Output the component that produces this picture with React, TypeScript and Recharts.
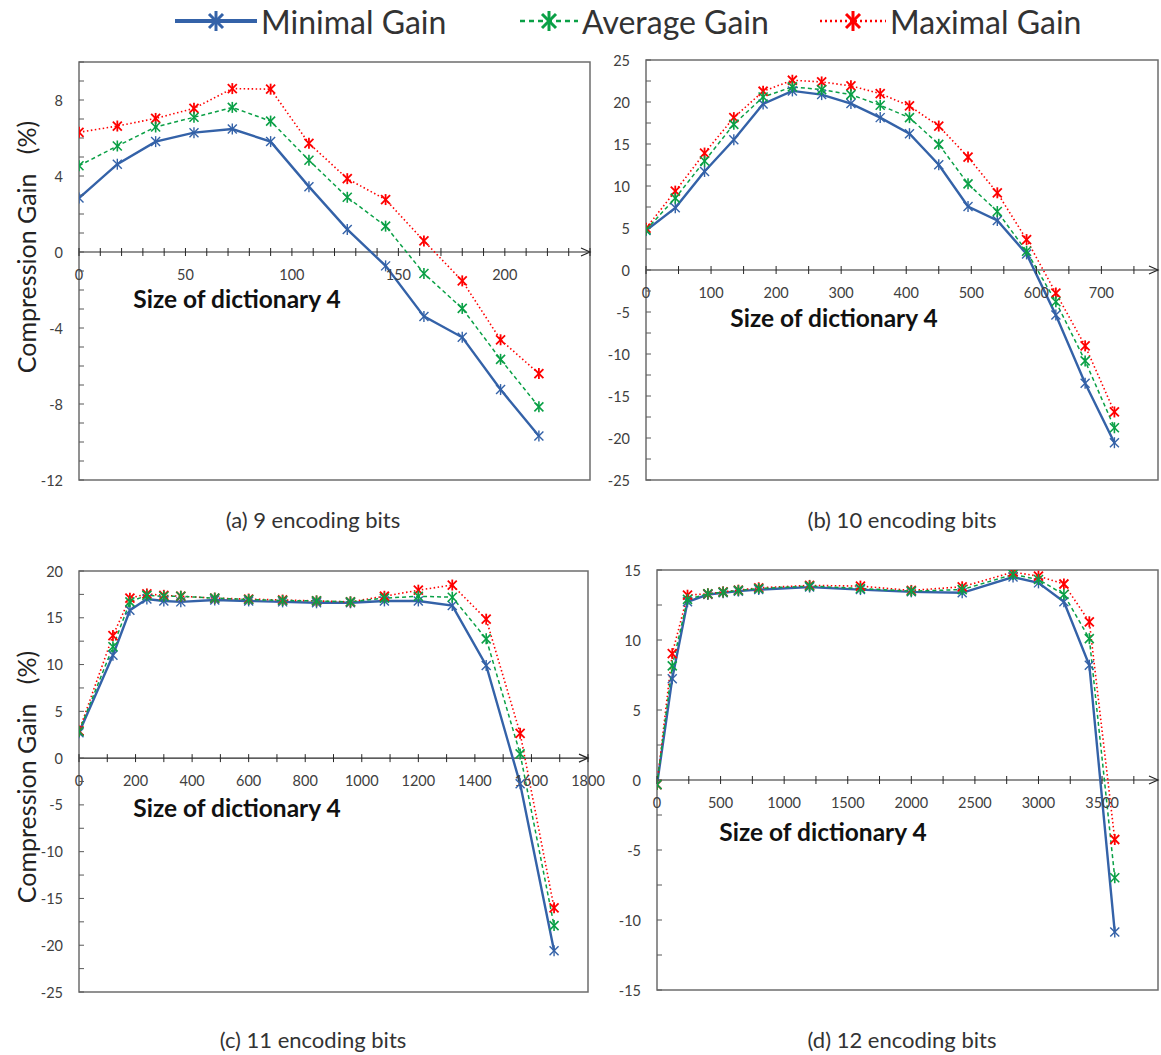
import React from 'react';
import { LineChart, Line, XAxis, YAxis, ReferenceLine, ReferenceDot, ReferenceArea } from 'recharts';

const FONT = 'Lato, "Open Sans", sans-serif';
const BLUE = '#3462a8';
const GREEN = '#0aa046';
const RED = '#ff0000';
const TEXT = '#404040';

// (a) 9 encoding bits
const sizesA = [0, 18, 36, 54, 72, 90, 108, 126, 144, 162, 180, 198, 216];
const minA = [2.84, 4.62, 5.81, 6.28, 6.47, 5.81, 3.44, 1.19, -0.73, -3.39, -4.49, -7.24, -9.69];
const avgA = [4.54, 5.58, 6.58, 7.09, 7.61, 6.89, 4.83, 2.88, 1.36, -1.13, -2.97, -5.65, -8.15];
const maxA = [6.3, 6.63, 7.03, 7.56, 8.6, 8.57, 5.72, 3.86, 2.76, 0.58, -1.52, -4.62, -6.4];
const xLabelsA = [0, 50, 100, 150, 200];
const yLabelsA = [-12, -8, -4, 0, 4, 8];

// (b) 10 encoding bits
const sizesB = [0, 45, 90, 135, 180, 225, 270, 315, 360, 405, 450, 495, 540, 585, 630, 675, 720];
const minB = [4.69, 7.4, 11.73, 15.51, 19.77, 21.32, 20.88, 19.81, 18.14, 16.23, 12.53, 7.56, 5.89, 1.91, -5.37, -13.48, -20.56];
const avgB = [4.77, 8.55, 12.97, 17.34, 20.6, 21.8, 21.48, 20.88, 19.61, 18.14, 14.96, 10.26, 6.96, 2.23, -3.78, -10.82, -18.78];
const maxB = [4.97, 9.39, 13.92, 18.14, 21.28, 22.59, 22.39, 21.92, 21.0, 19.53, 17.14, 13.44, 9.19, 3.62, -2.74, -9.03, -16.9];
const xLabelsB = [0, 100, 200, 300, 400, 500, 600, 700];
const yLabelsB = [-25, -20, -15, -10, -5, 0, 5, 10, 15, 20, 25];

// (c) 11 encoding bits
const sizesC = [0, 120, 180, 240, 300, 360, 480, 600, 720, 840, 960, 1080, 1200, 1320, 1440, 1560, 1680];
const minC = [2.7, 11.0, 15.8, 17.0, 16.8, 16.7, 16.9, 16.8, 16.7, 16.6, 16.6, 16.8, 16.8, 16.3, 9.9, -2.75, -20.6];
const avgC = [2.85, 11.9, 16.7, 17.4, 17.3, 17.3, 17.1, 16.95, 16.85, 16.8, 16.7, 17.1, 17.3, 17.2, 12.75, 0.45, -17.9];
const maxC = [2.9, 13.1, 17.1, 17.55, 17.4, 17.3, 17.1, 17.0, 16.9, 16.8, 16.7, 17.3, 17.95, 18.5, 14.85, 2.65, -16.0];
const xLabelsC = [0, 200, 400, 600, 800, 1000, 1200, 1400, 1600, 1800];
const yLabelsC = [-25, -20, -15, -10, -5, 0, 5, 10, 15, 20];

// (d) 12 encoding bits
const sizesD = [0, 120, 240, 400, 520, 640, 800, 1200, 1600, 2000, 2400, 2800, 3000, 3200, 3400, 3600];
const minD = [-0.33, 7.24, 12.73, 13.25, 13.37, 13.49, 13.6, 13.78, 13.6, 13.44, 13.37, 14.5, 14.08, 12.73, 8.2, -10.86];
const avgD = [-0.33, 8.15, 12.9, 13.3, 13.42, 13.54, 13.68, 13.85, 13.68, 13.49, 13.6, 14.68, 14.32, 13.25, 10.1, -6.98];
const maxD = [-0.33, 9.03, 13.2, 13.3, 13.44, 13.56, 13.73, 13.9, 13.85, 13.54, 13.8, 14.85, 14.56, 14.0, 11.3, -4.25];
const xLabelsD = [0, 500, 1000, 1500, 2000, 2500, 3000, 3500];
const yLabelsD = [-15, -10, -5, 0, 5, 10, 15];

const seriesNames = ['Minimal Gain', 'Average Gain', 'Maximal Gain'];

function steps(lo: number, hi: number, step: number) {
  const out: number[] = [];
  for (let v = lo; v <= hi + 1e-9; v += step) out.push(Math.round(v * 1000) / 1000);
  return out;
}

function starDot(color: string, r: number, sw: number) {
  return (props: any) => {
    const { cx, cy, index } = props;
    if (cx == null || cy == null) return <g key={`e-${index}`} />;
    return (
      <g key={`s-${index}`} stroke={color} strokeWidth={sw}>
        <line x1={cx - r} y1={cy - r} x2={cx + r} y2={cy + r} />
        <line x1={cx - r} y1={cy + r} x2={cx + r} y2={cy - r} />
        <line x1={cx} y1={cy - r - 1} x2={cx} y2={cy + r + 1} />
      </g>
    );
  };
}

interface PanelProps {
  left: number; top: number; right: number; bottom: number; padRight: number;
  xs: number[]; mins: number[]; avgs: number[]; maxs: number[];
  xDomain: [number, number]; yDomain: [number, number];
  xLabels: number[]; xStep: number; yLabels: number[]; yStep: number;
}

function Panel(p: PanelProps) {
  const ml = 60, mt = 20, mr = p.padRight, mb = 30;
  const width = p.right - p.left + ml + mr;
  const height = p.bottom - p.top + mt + mb;
  const data = p.xs.map((x, i) => ({ x, min: p.mins[i], avg: p.avgs[i], max: p.maxs[i] }));
  const xTicks = steps(p.xDomain[0], p.xDomain[1], p.xStep);
  const yTicks = steps(p.yDomain[0], p.yDomain[1], p.yStep);

  return (
    <div style={{ position: 'absolute', left: p.left - ml, top: p.top - mt }}>
      <LineChart width={width} height={height} data={data} margin={{ top: mt, right: mr, bottom: mb, left: ml }}>
        <XAxis type="number" dataKey="x" domain={p.xDomain} hide allowDataOverflow />
        <YAxis type="number" domain={p.yDomain} hide allowDataOverflow />
        <ReferenceArea x1={p.xDomain[0]} x2={p.xDomain[1]} y1={p.yDomain[0]} y2={p.yDomain[1]}
          fill="#ffffff" fillOpacity={0} stroke="#6e6e6e" strokeWidth={1.5} ifOverflow="visible" />
        <ReferenceLine y={0} stroke="#262626" strokeWidth={1.2} ifOverflow="visible" />
        <ReferenceDot x={p.xDomain[1]} y={0} r={0} ifOverflow="visible"
          shape={(d: any) => (
            <path d={`M${d.cx - 9},${d.cy - 4} L${d.cx},${d.cy} L${d.cx - 9},${d.cy + 4}`} fill="none" stroke="#262626" strokeWidth={1.2} />
          )} />
        {xTicks.map((t) => (
          <ReferenceDot key={`x${t}`} x={t} y={0} r={0} ifOverflow="visible"
            shape={(d: any) => (
              <g>
                <line x1={d.cx} y1={d.cy - 4} x2={d.cx} y2={d.cy + 4} stroke="#262626" strokeWidth={1} />
                {p.xLabels.includes(t) && (
                  <text x={d.cx} y={d.cy + 22} textAnchor="middle" dominantBaseline="central"
                    style={{ fontFamily: FONT, fontSize: 14.5, fill: TEXT }}>{t}</text>
                )}
              </g>
            )} />
        ))}
        {yTicks.map((t) => (
          <ReferenceDot key={`y${t}`} x={p.xDomain[0]} y={t} r={0} ifOverflow="visible"
            shape={(d: any) => (
              <g>
                <line x1={d.cx} y1={d.cy} x2={d.cx + 5} y2={d.cy} stroke="#595959" strokeWidth={1} />
                {p.yLabels.includes(t) && (
                  <text x={d.cx - 16} y={d.cy} textAnchor="end" dominantBaseline="central"
                    style={{ fontFamily: FONT, fontSize: 14.5, fill: TEXT }}>{t}</text>
                )}
              </g>
            )} />
        ))}
        <Line type="linear" dataKey="min" stroke={BLUE} strokeWidth={2.4}
          dot={starDot(BLUE, 4.5, 1.4)} activeDot={false} isAnimationActive={false} />
        <Line type="linear" dataKey="max" stroke={RED} strokeWidth={1.6} strokeDasharray="1.5 2.5"
          dot={starDot(RED, 4.5, 1.8)} activeDot={false} isAnimationActive={false} />
        <Line type="linear" dataKey="avg" stroke={GREEN} strokeWidth={1.5} strokeDasharray="4 3"
          dot={starDot(GREEN, 4.5, 1.6)} activeDot={false} isAnimationActive={false} />
      </LineChart>
    </div>
  );
}

function LegendItem({ left, sample, color, dash, sw, label }: any) {
  return (
    <div style={{ position: 'absolute', left, top: 0, height: 42, display: 'flex', alignItems: 'center' }}>
      <svg width={sample} height={30}>
        <line x1={0} y1={15} x2={sample} y2={15} stroke={color} strokeWidth={sw} strokeDasharray={dash} />
        <g stroke={color} strokeWidth={3}>
          <line x1={sample / 2 - 7} y1={8} x2={sample / 2 + 7} y2={22} />
          <line x1={sample / 2 - 7} y1={22} x2={sample / 2 + 7} y2={8} />
          <line x1={sample / 2} y1={5} x2={sample / 2} y2={25} />
        </g>
      </svg>
      <span style={{ fontFamily: FONT, fontSize: 32, color: '#333', marginLeft: 4, whiteSpace: 'nowrap' }}>{label}</span>
    </div>
  );
}

function Caption({ cx, cy, text, size, bold }: any) {
  return (
    <div style={{
      position: 'absolute', left: cx - 200, width: 400, top: cy - 15, height: 30, lineHeight: '30px',
      textAlign: 'center', fontFamily: FONT, fontSize: size, fontWeight: bold ? 700 : 400,
      color: bold ? '#111' : '#333', whiteSpace: 'nowrap',
    }}>{text}</div>
  );
}

function YTitle({ cy }: { cy: number }) {
  return (
    <div style={{
      position: 'absolute', left: 26 - 150, top: cy - 16, width: 300, height: 32, lineHeight: '32px',
      textAlign: 'center', transform: 'rotate(-90deg)', fontFamily: FONT, fontSize: 25, color: '#222',
      whiteSpace: 'pre',
    }}>{'Compression Gain   (%)'}</div>
  );
}

export default function App() {
  return (
    <div style={{ position: 'absolute', left: 0, top: 0, width: 1161, height: 1055, overflow: 'hidden', background: '#fff' }}>
      <LegendItem left={175} sample={82} color={BLUE} sw={4} label={seriesNames[0]} />
      <LegendItem left={520} sample={58} color={GREEN} sw={2.5} dash="5 4" label={seriesNames[1]} />
      <LegendItem left={820} sample={66} color={RED} sw={2.5} dash="2 3" label={seriesNames[2]} />

      <Panel left={79} top={62} right={590} bottom={480} padRight={25} xs={sizesA} mins={minA} avgs={avgA} maxs={maxA}
        xDomain={[0, 240]} yDomain={[-12, 10]} xLabels={xLabelsA} xStep={10} yLabels={yLabelsA} yStep={1} />
      <Panel left={646} top={60} right={1158} bottom={480} padRight={3} xs={sizesB} mins={minB} avgs={avgB} maxs={maxB}
        xDomain={[0, 787]} yDomain={[-25, 25]} xLabels={xLabelsB} xStep={50} yLabels={yLabelsB} yStep={2.5} />
      <Panel left={79} top={571} right={588} bottom={992} padRight={25} xs={sizesC} mins={minC} avgs={avgC} maxs={maxC}
        xDomain={[0, 1800]} yDomain={[-25, 20]} xLabels={xLabelsC} xStep={100} yLabels={yLabelsC} yStep={2.5} />
      <Panel left={657} top={570} right={1158} bottom={990} padRight={3} xs={sizesD} mins={minD} avgs={avgD} maxs={maxD}
        xDomain={[0, 3940]} yDomain={[-15, 15]} xLabels={xLabelsD} xStep={250} yLabels={yLabelsD} yStep={2.5} />

      <Caption cx={237} cy={299} text="Size of dictionary 4" size={24.5} bold />
      <Caption cx={834} cy={318} text="Size of dictionary 4" size={24.5} bold />
      <Caption cx={237} cy={808} text="Size of dictionary 4" size={24.5} bold />
      <Caption cx={823} cy={832} text="Size of dictionary 4" size={24.5} bold />

      <YTitle cy={247} />
      <YTitle cy={777} />

      <Caption cx={313} cy={520} text="(a) 9 encoding bits" size={22} />
      <Caption cx={902} cy={520} text="(b) 10 encoding bits" size={22} />
      <Caption cx={313} cy={1040} text="(c) 11 encoding bits" size={22} />
      <Caption cx={902} cy={1040} text="(d) 12 encoding bits" size={22} />
    </div>
  );
}
